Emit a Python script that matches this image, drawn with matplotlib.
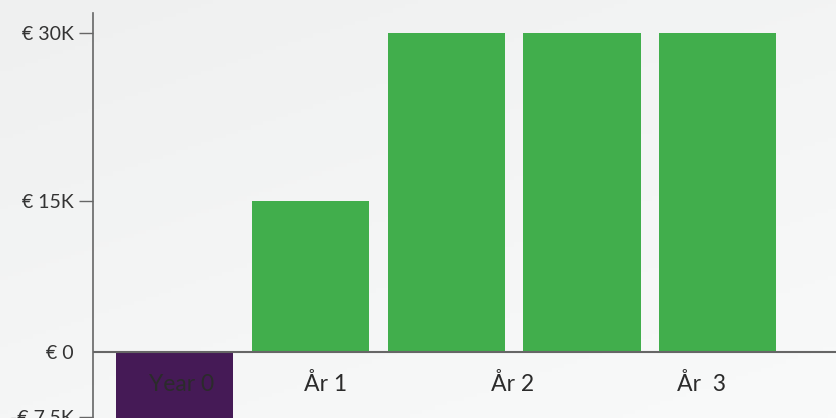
import matplotlib
matplotlib.use("Agg")
import matplotlib.pyplot as plt
import numpy as np

plt.rcParams["font.family"] = ["Lato", "DejaVu Sans"]

# bar data (one bar per period)
bar_values = [-10000, 15000, 30000, 30000, 30000]
bar_colors = ["#451a56", "#41ae4c", "#41ae4c", "#41ae4c", "#41ae4c"]

# category labels along the baseline
tick_labels = ["Year 0", "År 1", "År 2", "År  3"]
tick_label_pos = [0.05, 1.11, 2.49, 3.88]

# y axis ticks
y_ticks = [-7500, 0, 15000, 30000]
y_tick_labels = ["-€ 7.5K", "€ 0", "€ 15K", "€ 30K"]

# the reference axis is not evenly spaced; piecewise linear scale between ticks
knot_v = np.array([-7500.0, 0.0, 15000.0, 30000.0])
knot_u = np.array([1.3, 65.7, 217.5, 385.0])
slope_lo = (knot_u[1] - knot_u[0]) / (knot_v[1] - knot_v[0])
slope_hi = (knot_u[-1] - knot_u[-2]) / (knot_v[-1] - knot_v[-2])


def fwd(v):
    v = np.asarray(v, dtype=float)
    u = np.interp(v, knot_v, knot_u)
    u = np.where(v < knot_v[0], knot_u[0] + (v - knot_v[0]) * slope_lo, u)
    u = np.where(v > knot_v[-1], knot_u[-1] + (v - knot_v[-1]) * slope_hi, u)
    return u


def inv(u):
    u = np.asarray(u, dtype=float)
    v = np.interp(u, knot_u, knot_v)
    v = np.where(u < knot_u[0], knot_v[0] + (u - knot_u[0]) / slope_lo, v)
    v = np.where(u > knot_u[-1], knot_v[-1] + (u - knot_u[-1]) / slope_hi, v)
    return v


fig = plt.figure(figsize=(8.36, 4.18), dpi=100)
fig.patch.set_facecolor("#f5f6f6")

# soft background gradient
bg = fig.add_axes([0, 0, 1, 1], zorder=-10)
gx, gy = np.meshgrid(np.linspace(0, 1, 200), np.linspace(0, 1, 100))
grad = 0.6 * gy + 0.4 * gx
bg.imshow(grad, cmap=matplotlib.colors.LinearSegmentedColormap.from_list(
    "bg", ["#eff0f0", "#f9fafa"]), aspect="auto", extent=[0, 1, 0, 1],
    origin="upper")
bg.axis("off")

ax = fig.add_axes([93 / 836, 0.0, 1 - 93 / 836, 1 - 13 / 418])
ax.patch.set_alpha(0)
ax.set_yscale("function", functions=(fwd, inv))

x = np.arange(len(bar_values))
ax.bar(x, bar_values, width=0.862, color=bar_colors, zorder=2)
ax.axhline(0, color="#666666", linewidth=1.5, zorder=3)

ax.set_xlim(-0.60, 4.87)
ax.set_ylim(float(inv(0)), float(inv(405)))

ax.set_yticks(y_ticks)
ax.set_yticklabels(y_tick_labels)
ax.tick_params(axis="y", length=10, width=1, color="#666666", pad=4,
               labelsize=14, labelcolor="#333333")
ax.yaxis.get_major_ticks()[1].tick1line.set_visible(False)

ax.set_xticks([])
for pos, lab in zip(tick_label_pos, tick_labels):
    ax.text(pos, -3700, lab, ha="center", va="center", fontsize=16.5,
            color="#2b2b2b", zorder=4)

for side in ["top", "right", "bottom"]:
    ax.spines[side].set_visible(False)
ax.spines["left"].set_color("#666666")
ax.spines["left"].set_linewidth(1.2)

fig.savefig("out.png", dpi=100, facecolor=fig.get_facecolor())
